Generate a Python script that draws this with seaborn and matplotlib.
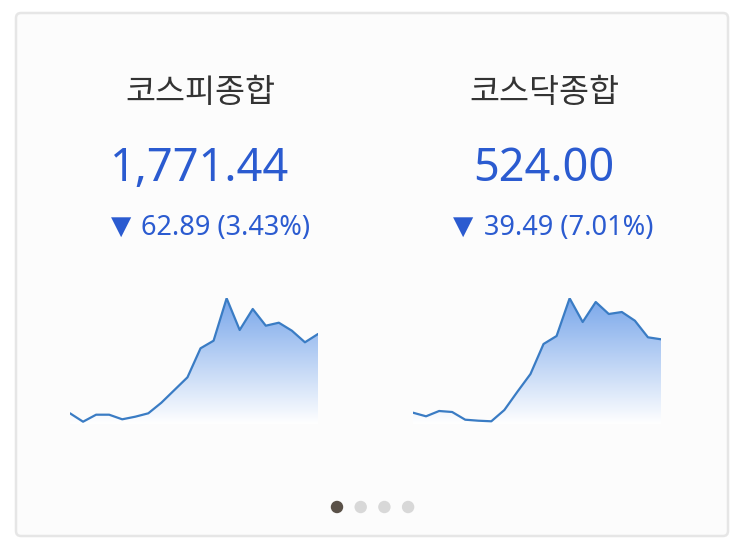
import numpy as np
import pandas as pd
import seaborn as sns
import matplotlib
matplotlib.use("Agg")
import matplotlib.pyplot as plt
from matplotlib.patches import FancyBboxPatch
from matplotlib.colors import LinearSegmentedColormap

sns.set_theme(style="white")
plt.rcParams['font.family'] = ['Noto Sans', 'Noto Sans CJK KR', 'DejaVu Sans']

# ---- data ----
titles = ["코스피종합", "코스닥종합"]
prices = ["1,771.44", "524.00"]
changes = ["62.89 (3.43%)", "39.49 (7.01%)"]
kospi = [16.7, 8.3, 15.3, 15.3, 10.7, 13.3, 16.7, 27.3, 40.0, 52.7,
         81.7, 89.3, 131.7, 100.0, 121.0, 104.3, 107.3, 99.3, 87.7, 96.0]
kosdaq = [17.3, 13.7, 19.0, 18.0, 10.3, 9.3, 8.7, 20.0, 38.3, 56.0,
          86.0, 94.0, 131.7, 108.0, 128.0, 116.0, 118.0, 109.3, 92.7, 90.7]
page_dots = [0, 1, 2, 3]

W, H = 743, 550
fig = plt.figure(figsize=(W / 100, H / 100), dpi=100)
fig.patch.set_facecolor("white")

# overlay axes in pixel coordinates
bg = fig.add_axes([0, 0, 1, 1])
bg.set_xlim(0, W)
bg.set_ylim(H, 0)
bg.axis("off")
bg.add_patch(FancyBboxPatch((16, 13), 712, 523, boxstyle="round,pad=0,rounding_size=5",
                            facecolor="#fcfcfc", edgecolor="#e6e6e6", lw=1.8))

blue = "#2b5bd0"
centers = [200, 544]
tri_x = [121, 463]
chg_x = [141, 484]
for i in range(2):
    bg.text(centers[i], 93, titles[i], ha="center", va="center", fontsize=23.5,
            color="#333333", family=["Noto Sans CJK KR", "DejaVu Sans"])
    bg.text(centers[i], 181, prices[i], ha="center", va="baseline", fontsize=32.5,
            color=blue, family=["Noto Sans", "DejaVu Sans"])
    bg.text(tri_x[i], 234, "▼", ha="center", va="baseline", fontsize=19,
            color=blue, family=["DejaVu Sans"])
    bg.text(chg_x[i], 235, changes[i], ha="left", va="baseline", fontsize=19.5,
            color=blue, family=["Noto Sans", "DejaVu Sans"])

# page dots
dots_df = pd.DataFrame({"x": [337 + 23.7 * d for d in page_dots], "y": [507] * len(page_dots),
                        "c": ["on"] + ["off"] * (len(page_dots) - 1)})
sns.scatterplot(data=dots_df, x="x", y="y", hue="c", palette={"on": "#5a5148", "off": "#d8d8d8"},
                s=80, edgecolor="none", legend=False, ax=bg)
bg.set_xlim(0, W)
bg.set_ylim(H, 0)
bg.axis("off")

cmap = LinearSegmentedColormap.from_list("g", ["#ffffff", "#78a6ea"])

def spark(vals, left_px, right_px):
    ax = fig.add_axes([left_px / W, 1 - 430 / H, (right_px - left_px) / W, 132 / H])
    n = len(vals)
    x = np.arange(n)
    ax.set_xlim(0, n - 1)
    ax.set_ylim(0, 132)
    poly = ax.fill_between(x, vals, 0, facecolor="none", edgecolor="none")
    grad = np.linspace(0, 1, 256).reshape(-1, 1)
    im = ax.imshow(grad, extent=[0, n - 1, 6, 132], origin="lower", aspect="auto",
                   cmap=cmap, vmin=0, vmax=1.0, zorder=1)
    im.set_clip_path(poly.get_paths()[0], transform=ax.transData)
    df = pd.DataFrame({"x": x, "y": vals})
    sns.lineplot(data=df, x="x", y="y", ax=ax, color="#3a7cc4", lw=1.6, zorder=3)
    ax.set_xlim(0, n - 1)
    ax.set_ylim(0, 132)
    ax.axis("off")
    ax.patch.set_alpha(0)

spark(kospi, 70, 318)
spark(kosdaq, 413, 661)

fig.savefig("out.png", dpi=100, facecolor="white")
